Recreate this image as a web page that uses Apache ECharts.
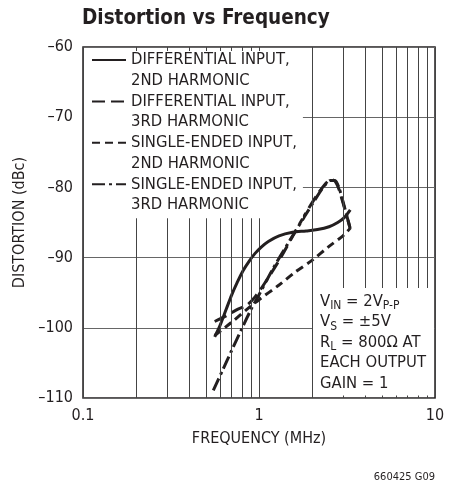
<!DOCTYPE html>
<html>
<head>
<meta charset="utf-8">
<script src="https://cdn.jsdelivr.net/npm/echarts@6/dist/echarts.min.js"></script>
<style>
html,body{margin:0;padding:0;background:#fff;}
#c{width:458px;height:481px;}
</style>
</head>
<body>
<div id="c"></div>
<script>
// ---- data ----
const seriesNames = [
  'DIFFERENTIAL INPUT,\n2ND HARMONIC',
  'DIFFERENTIAL INPUT,\n3RD HARMONIC',
  'SINGLE-ENDED INPUT,\n2ND HARMONIC',
  'SINGLE-ENDED INPUT,\n3RD HARMONIC'
];
const freqDiff2 = [0.56,0.6,0.65,0.7,0.75,0.81,0.88,0.95,1.03,1.13,1.3,1.55,1.85,2.15,2.5,2.8,3.05,3.3];
const distDiff2 = [-101.3,-99.7,-97.4,-95.3,-93.6,-91.9,-90.5,-89.4,-88.5,-87.7,-86.9,-86.4,-86.2,-86.0,-85.6,-85.0,-84.3,-83.2];
const freqDiff3 = [0.56,0.65,0.75,0.85,0.95,1.1,1.3,1.55,1.85,2.15,2.4,2.55,2.7,2.85,3.0,3.15,3.3];
const distDiff3 = [-99.1,-98.3,-97.4,-96.8,-95.6,-93.3,-90.4,-87.0,-83.6,-81.0,-79.4,-78.9,-79.1,-80.3,-82.2,-84.0,-85.9];
const freqSe2 = [0.56,0.7,0.85,1.0,1.3,1.6,2.0,2.5,3.0,3.3];
const distSe2 = [-101.1,-99.2,-97.4,-96.0,-93.9,-92.1,-90.4,-88.4,-86.9,-85.8];
const freqSe3 = [0.55,0.62,0.7,0.8,0.9,1.0,1.2,1.5,1.8,2.1,2.35,2.55,2.7,2.85,3.0,3.15,3.3];
const distSe3 = [-108.9,-106.1,-103.2,-100.1,-97.4,-95.3,-91.6,-87.5,-84.3,-81.6,-79.8,-79.0,-79.0,-80.1,-82.0,-84.0,-85.9];
const minorGridFreqs = [0.2,0.3,0.4,0.5,0.6,0.7,0.8,0.9,2,3,4,5,6,7,8,9];

const FONT = "'Liberation Sans Narrow','DejaVu Sans Condensed','Arial Narrow',sans-serif";
const INK = '#231f20';
const pairs = (xs, ys) => xs.map((x, i) => [x, ys[i]]);

const lineSeries = (name, xs, ys, type) => ({
  name: name, type: 'line', data: pairs(xs, ys),
  showSymbol: false, symbol: 'none', smooth: 0.3, z: 2,
  lineStyle: { color: INK, width: 3, type: type },
  itemStyle: { color: INK }
});

const chart = echarts.init(document.getElementById('c'));
chart.setOption({
  animation: false,
  backgroundColor: '#fff',
  title: [
    {
      text: 'Distortion vs Frequency', left: 77, top: 3,
      textStyle: { fontFamily: FONT, fontWeight: 'bold', fontSize: 20.5, color: INK }
    },
    {
      text: '{a|V}{s|IN}{a| = 2V}{s|P-P}\n{a|V}{s|S}{a| = \u00b15V}\n{a|R}{s|L}{a| = 800\u03a9 AT}\n{a|EACH OUTPUT}\n{a|GAIN = 1}',
      left: 313, top: 288, padding: [5, 0, 0, 7], backgroundColor: '#fff', z: 6,
      textStyle: {
        width: 114, lineHeight: 20.5, fontFamily: FONT, fontSize: 16.5, fontWeight: 'normal', color: INK,
        rich: {
          a: { fontFamily: FONT, fontSize: 16.5, fontWeight: 'normal', lineHeight: 20.5, color: INK, verticalAlign: 'top' },
          s: { fontFamily: FONT, fontSize: 12, fontWeight: 'normal', lineHeight: 20.5, color: INK, verticalAlign: 'top', padding: [7, 0, 0, 0] }
        }
      }
    }
  ],
  grid: { left: 83, right: 23, top: 47, bottom: 83, show: true, borderColor: INK, borderWidth: 1.5, backgroundColor: 'transparent' },
  xAxis: {
    type: 'log', logBase: 10, min: 0.1, max: 10,
    name: 'FREQUENCY (MHz)', nameLocation: 'middle', nameGap: 33,
    nameTextStyle: { fontFamily: FONT, fontSize: 16, color: INK },
    axisLine: { show: false }, axisTick: { show: false },
    axisLabel: { fontFamily: FONT, fontSize: 16, color: INK, margin: 10,
      formatter: v => (v < 1 ? v.toFixed(1) : String(Math.round(v))) },
    splitLine: { show: true, lineStyle: { color: '#444', width: 1 } }
  },
  yAxis: {
    type: 'value', min: -110, max: -60, interval: 10,
    name: 'DISTORTION (dBc)', nameLocation: 'middle', nameGap: 47,
    nameTextStyle: { fontFamily: FONT, fontSize: 16, color: INK },
    axisLine: { show: false }, axisTick: { show: false },
    axisLabel: { fontFamily: FONT, fontSize: 16, color: INK, margin: 10,
      formatter: v => String(v).replace('-', '\u2013') },
    splitLine: { show: true, lineStyle: { color: '#666', width: 1 } }
  },
  legend: {
    data: seriesNames, orient: 'vertical', left: 84, top: 51, padding: [-22, 6, 3, 7],
    backgroundColor: '#fff',
    itemWidth: 34, itemHeight: 14, itemGap: -20.7, z: 6,
    formatter: name => '\n' + name,
    itemStyle: { opacity: 0 },
    textStyle: { fontFamily: FONT, fontSize: 16.5, color: INK, lineHeight: 20.7 },
    selectedMode: false
  },
  graphic: [
    { type: 'text', right: 23, top: 472, silent: true,
      style: { text: '660425 G09', fontFamily: FONT, fontSize: 11, fill: INK } }
  ],
  series: [
    lineSeries(seriesNames[0], freqDiff2, distDiff2, 'solid'),
    lineSeries(seriesNames[1], freqDiff3, distDiff3, [13, 6]),
    lineSeries(seriesNames[2], freqSe2, distSe2, [8, 5]),
    lineSeries(seriesNames[3], freqSe3, distSe3, [13, 4, 3, 4]),
    {
      name: 'grid', type: 'line', data: [], z: 1, silent: true,
      markLine: {
        silent: true, symbol: ['none', 'none'], animation: false,
        label: { show: false },
        lineStyle: { color: '#444', width: 1, type: 'solid' },
        emphasis: { disabled: true },
        data: minorGridFreqs.map(f => ({ xAxis: f }))
      }
    }
  ]
});
</script>
</body>
</html>
